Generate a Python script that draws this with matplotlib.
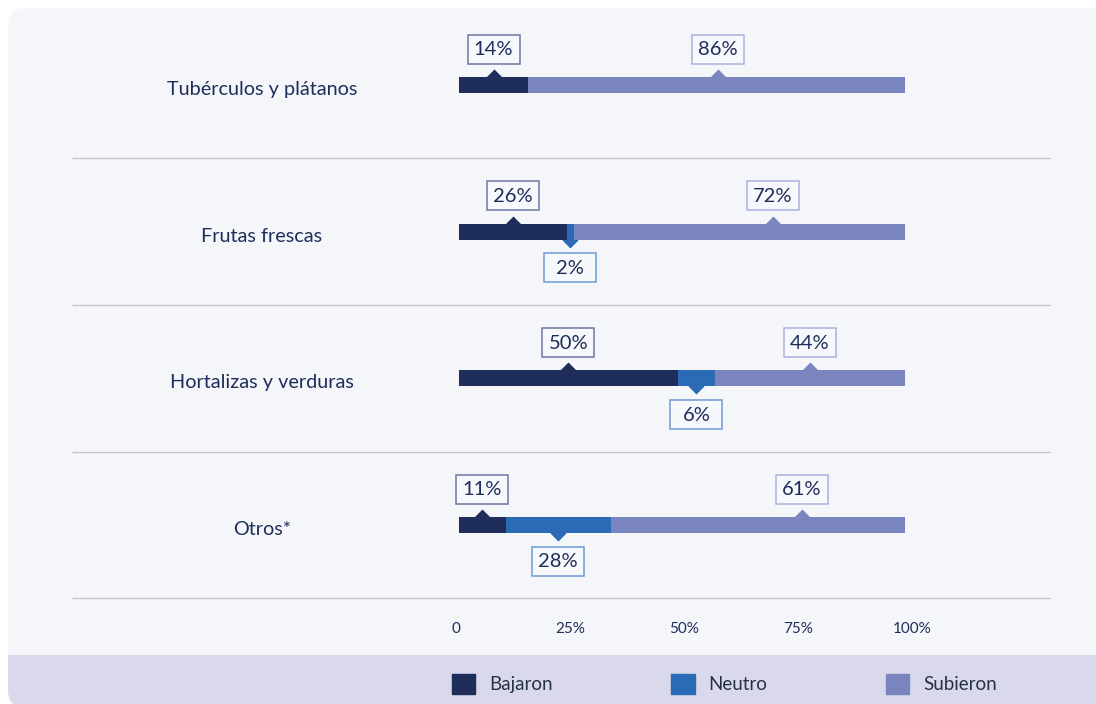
import matplotlib
matplotlib.use("Agg")
import matplotlib.pyplot as plt
from matplotlib.patches import FancyBboxPatch, Rectangle, Patch

plt.rcParams["font.family"] = ["Lato", "DejaVu Sans"]

# data
categories = ["Tubérculos y plátanos", "Frutas frescas", "Hortalizas y verduras", "Otros*"]
# drawn segment widths (% of bar)
bajaron = [15.5, 24.2, 49.1, 10.5]
neutro = [0.0, 1.5, 8.3, 23.5]
subieron = [84.5, 74.3, 42.6, 66.0]
# printed labels
bajaron_lbl = ["14%", "26%", "50%", "11%"]
neutro_lbl = [None, "2%", "6%", "28%"]
subieron_lbl = ["86%", "72%", "44%", "61%"]
# where the "Subieron" callouts point (% along the bar)
subieron_at = [58.1, 70.4, 78.6, 76.9]
ticks = [0, 25, 50, 75, 100]
tick_lbl = ["0", "25%", "50%", "75%", "100%"]
series_names = ["Bajaron", "Neutro", "Subieron"]

c_baj = "#1e2d5a"
c_neu = "#2b6bb5"
c_sub = "#7a85bf"
box_edge = {"baj": "#6b78a3", "neu": "#6d9bd3", "sub": "#aab2de"}
txt = "#1e2d5a"
panel_bg = "#f5f6fa"
band_bg = "#d9d9eb"

W, H = 1096, 704
fig = plt.figure(figsize=(W / 100, H / 100), dpi=100, facecolor="white")

# background panel in pixel units
bg = fig.add_axes([0, 0, 1, 1])
bg.set_xlim(0, W)
bg.set_ylim(H, 0)
bg.axis("off")
panel = FancyBboxPatch((8, 8), 1120, 700, boxstyle="round,pad=0,rounding_size=18",
                       fc=panel_bg, ec="none")
bg.add_patch(panel)
band = Rectangle((0, 655), W + 40, 60, fc=band_bg, ec="none")
band.set_clip_path(panel)
bg.add_patch(band)

# main chart axes: x 459..905 px, y 8..600 px
ax = fig.add_axes([459 / W, (H - 600) / H, 446 / W, 592 / H])
ax.patch.set_alpha(0)
row_px = 146.67
ax.set_xlim(0, 100)
ax.set_ylim((600 - 85) / row_px, (8 - 85) / row_px)
for s in ax.spines.values():
    s.set_visible(False)

ypos = list(range(len(categories)))
bar_h = 16 / row_px
left2 = [a + b for a, b in zip(bajaron, neutro)]
ax.barh(ypos, bajaron, height=bar_h, color=c_baj, zorder=3)
ax.barh(ypos, neutro, left=bajaron, height=bar_h, color=c_neu, zorder=3)
ax.barh(ypos, subieron, left=left2, height=bar_h, color=c_sub, zorder=3)

box_w = 52 / 446 * 100
box_h = 29 / row_px
off = 36 / row_px


def label(x, y, text, edge, color, above):
    yc = y - off if above else y + off
    edge_y = y - bar_h / 2 if above else y + bar_h / 2
    ax.plot(x, edge_y, marker="D", ms=8.5, color=color, mec="none", zorder=2, clip_on=False)
    ax.add_patch(Rectangle((x - box_w / 2, yc - box_h / 2), box_w, box_h, fc="#f7f8fc",
                           ec=edge, lw=1.1, zorder=4, clip_on=False))
    ax.text(x, yc + 0.005, text, ha="center", va="center", fontsize=14.5, color=txt, zorder=5)


for i in ypos:
    label(bajaron[i] / 2, i, bajaron_lbl[i], box_edge["baj"], c_baj, True)
    label(subieron_at[i], i, subieron_lbl[i], box_edge["sub"], c_sub, True)
    if neutro_lbl[i]:
        label(bajaron[i] + neutro[i] / 2, i, neutro_lbl[i], box_edge["neu"], c_neu, False)

# category names, centred in the left column
cat_x = (262 - 459) / 446 * 100
for i, name in enumerate(categories):
    ax.text(cat_x, i + 0.03, name, ha="center", va="center", fontsize=14.3, color=txt)

# row separators
sep_y = [i + 0.5 for i in ypos]
ax.hlines(sep_y, (72 - 459) / 446 * 100, (1050 - 459) / 446 * 100, color="#c4c5cc",
          lw=1, clip_on=False)
ax.set_xticks([])
ax.set_yticks([])

# percentage scale under the chart (456..912 px)
tax = fig.add_axes([456 / W, (H - 600) / H, 456 / W, 0.001])
tax.patch.set_alpha(0)
for s in tax.spines.values():
    s.set_visible(False)
tax.set_xlim(0, 100)
tax.set_yticks([])
tax.set_xticks(ticks)
tax.set_xticklabels(tick_lbl)
tax.tick_params(axis="x", length=0, pad=15.5, labelsize=11, labelcolor=txt)

handles = [Patch(color=c) for c in (c_baj, c_neu, c_sub)]
fig.legend(handles, series_names, loc="center left", bbox_to_anchor=(452 / W, 1 - 684 / H),
           ncol=3, frameon=False, fontsize=13.5, handlelength=1.25, handleheight=1.25,
           handletextpad=0.75, columnspacing=6.3, borderpad=0, borderaxespad=0,
           labelcolor="#26323f")

fig.savefig("out.png", dpi=100, facecolor="white")
